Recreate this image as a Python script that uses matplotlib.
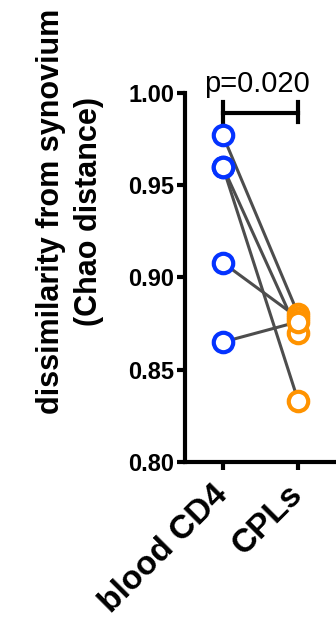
import matplotlib.pyplot as plt

plt.rcParams['font.family'] = ['Liberation Sans', 'DejaVu Sans']

groups = ['blood CD4', 'CPLs']
blood_cd4 = [0.977, 0.960, 0.960, 0.908, 0.865]
cpls = [0.880, 0.870, 0.833, 0.878, 0.876]
p_text = 'p=0.020'

fig = plt.figure(figsize=(3.36, 6.32), dpi=100)
ax = fig.add_axes([0.551, 0.269, 0.449, 0.584])

for a, b in zip(blood_cd4, cpls):
    ax.plot([0, 1], [a, b], color='#4d4d4d', lw=2.2, zorder=1)

ax.plot([0] * len(blood_cd4), blood_cd4, 'o', ms=14, mfc='white', mec='#0433ff', mew=3, zorder=3, clip_on=False)
ax.plot([1] * len(cpls), cpls, 'o', ms=14, mfc='white', mec='#ff9300', mew=3, zorder=3, clip_on=False)

# significance bar
ax.plot([0, 1], [0.989, 0.989], color='black', lw=3, clip_on=False)
ax.plot([0, 0], [0.984, 0.995], color='black', lw=3, clip_on=False)
ax.plot([1, 1], [0.984, 0.995], color='black', lw=3, clip_on=False)
ax.text(0.45, 0.9975, p_text, ha='center', va='bottom', fontsize=21, clip_on=False)

ax.set_xlim(-0.5, 1.5)
ax.set_ylim(0.80, 1.00)
ax.set_yticks([0.80, 0.85, 0.90, 0.95, 1.00])
ax.set_yticklabels(['0.80', '0.85', '0.90', '0.95', '1.00'], fontsize=17, fontweight='bold')
ax.set_xticks([0, 1])
ax.set_xticklabels(groups, fontsize=24, fontweight='bold', rotation=45,
                   ha='right', va='center', rotation_mode='anchor')

for s in ['top', 'right']:
    ax.spines[s].set_visible(False)
for s in ['left', 'bottom']:
    ax.spines[s].set_linewidth(3)
ax.tick_params(width=3, length=6, pad=2)
ax.tick_params(axis='x', pad=14)

fig.text(0.208, 0.665, 'dissimilarity from synovium\n(Chao distance)', rotation=90,
         ha='center', va='center', fontsize=22, fontweight='bold', linespacing=1.35)

fig.savefig('out.png', dpi=100)
